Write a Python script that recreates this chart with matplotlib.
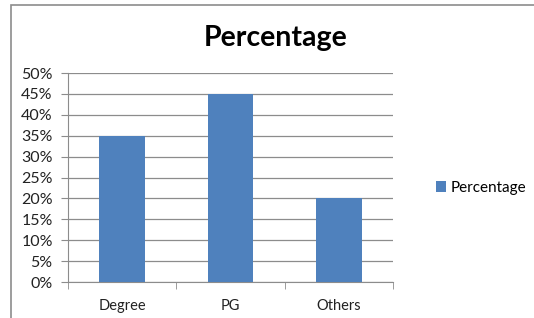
import matplotlib.pyplot as plt
from matplotlib.patches import Rectangle
from matplotlib.ticker import FuncFormatter

# data
categories = ["Degree", "PG", "Others"]
values = [0.35, 0.45, 0.20]
series_name = "Percentage"

W, H = 534, 318
fig = plt.figure(figsize=(W / 100, H / 100), dpi=100)
plt.rcParams["font.family"] = ["Lato", "DejaVu Sans"]

# chart border (left and top visible)
fig.patches.append(Rectangle((11 / W, -0.05), 1.2, (H - 5) / H + 0.05,
                             transform=fig.transFigure, fill=False,
                             edgecolor="#8c8c8c", linewidth=1.2))

ax = fig.add_axes([68 / W, 1 - 282 / H, (393 - 68) / W, (282 - 73) / H])
x = range(len(categories))
ax.bar(x, values, width=0.42, color="#4f81bd", label=series_name, zorder=3)

ax.set_xlim(-0.5, len(categories) - 0.5)
ax.set_ylim(0, 0.5)
ax.set_yticks([i * 0.05 for i in range(11)])
ax.yaxis.set_major_formatter(FuncFormatter(lambda v, p: f"{round(v * 100)}%"))
ax.set_xticks(list(x))
ax.set_xticklabels(categories)
ax.set_xticks([i - 0.5 for i in range(len(categories) + 1)], minor=True)
ax.tick_params(axis="x", which="major", length=0, pad=12, labelsize=10.5, colors="#222222")
ax.tick_params(axis="x", which="minor", length=5, direction="out", color="#8c8c8c")
ax.tick_params(axis="y", length=5, direction="out", labelsize=11.5, pad=6,
               colors="#222222")
ax.tick_params(axis="y", color="#8c8c8c")
ax.grid(axis="y", color="#8c8c8c", linewidth=0.9, zorder=0)
for side in ["top", "right"]:
    ax.spines[side].set_visible(False)
for side in ["left", "bottom"]:
    ax.spines[side].set_color("#8c8c8c")

fig.text(276 / W, 1 - 38 / H, "Percentage", ha="center", va="center",
         fontsize=20.5, fontweight="bold")

fig.legend(loc="center left", bbox_to_anchor=(422 / W, 1 - 188 / H), frameon=False,
           handlelength=0.7, handleheight=0.7, handletextpad=0.3, fontsize=11)

fig.savefig("out.png", dpi=100)
